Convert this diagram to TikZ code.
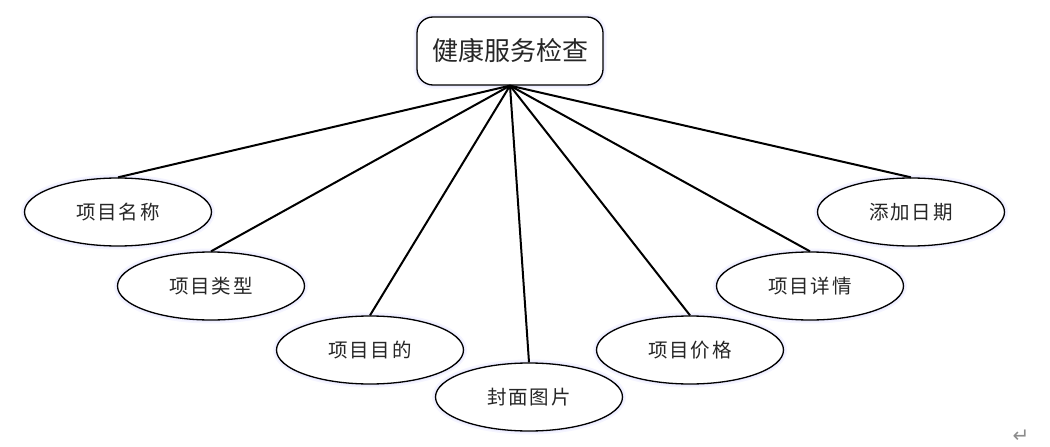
\documentclass[tikz,border=0pt]{standalone}
\usepackage{fontspec}
\usetikzlibrary{shapes.geometric}
\newfontfamily\cjk{Noto Sans CJK SC}
\newfontfamily\cjkspaced[LetterSpace=10]{Noto Sans CJK SC}
\newfontfamily\symfont{DejaVu Sans}
\begin{document}
\begin{tikzpicture}[x=1pt,y=-1pt,
  glow/.style={preaction={draw=blue!4, line width=7pt}, preaction={draw=blue!8, line width=3.5pt}},
  topbox/.style={draw, line width=1.3pt, rounded corners=16pt, fill=white, glow,
    minimum width=186pt, minimum height=68pt, inner sep=0pt,
    font=\fontsize{26pt}{30pt}\cjk, text=black!85},
  attr/.style={ellipse, draw, line width=1.3pt, fill=white, glow,
    minimum width=187pt, minimum height=68pt, inner sep=0pt,
    font=\fontsize{19.5pt}{24pt}\cjkspaced, text=black!85},
  link/.style={line width=2pt}
]
\useasboundingbox (0,0) rectangle (1050,447);
\node[topbox] (top) at (510,51) {健康服务检查};
\node[attr] (a1) at (118,212) {项目名称};
\node[attr] (a2) at (211,286) {项目类型};
\node[attr] (a3) at (370,350) {项目目的};
\node[attr] (a4) at (529,397) {封面图片};
\node[attr] (a5) at (690,350) {项目价格};
\node[attr] (a6) at (810,286) {项目详情};
\node[attr] (a7) at (911,212) {添加日期};
\foreach \n in {a1,a2,a3,a4,a5,a6,a7}
  \draw[link] (top.south) -- (\n.north);
\node[font=\fontsize{20pt}{22pt}\symfont, text=black!45, inner sep=0pt] (ret) at (1021,436) {↵};
\end{tikzpicture}
\end{document}
